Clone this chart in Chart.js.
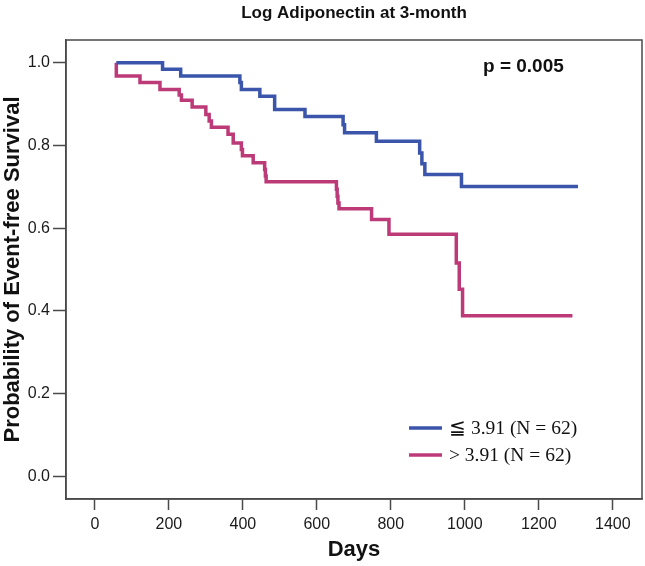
<!DOCTYPE html>
<html><head><meta charset="utf-8">
<script src="https://cdn.jsdelivr.net/npm/chart.js@4/dist/chart.umd.min.js"></script>
<style>html,body{margin:0;padding:0;background:#fff}#wrap{width:645px;height:566px}</style>
</head><body><div id="wrap"><canvas id="c" width="645" height="566"></canvas></div>
<script>
const chartTitle = 'Log Adiponectin at 3-month';
const pValueText = 'p = 0.005';
const xAxisTitle = 'Days';
const yAxisTitle = 'Probability of Event-free Survival';
const seriesLabels = ['\u2266 3.91 (N = 62)', '> 3.91 (N = 62)'];
const seriesColors = ['#3a55aa', '#bd3a78'];
const xTickValues = [0, 200, 400, 600, 800, 1000, 1200, 1400];
const xTickLabels = ['0', '200', '400', '600', '800', '1000', '1200', '1400'];
const yTickValues = [0, 0.2, 0.4, 0.6, 0.8, 1.0];
const yTickLabels = ['0.0', '0.2', '0.4', '0.6', '0.8', '1.0'];

// Group "≦ 3.91": event times (days) and survival after each step
const lowDays = [58, 183, 232, 392, 396, 446, 486, 568, 671, 675, 761, 878, 884, 892, 991, 1306];
const lowSurv = [1.0, 0.984, 0.968, 0.952, 0.935, 0.919, 0.887, 0.870, 0.850, 0.831, 0.810, 0.782, 0.756, 0.730, 0.701, 0.701];

// Group "> 3.91"
const highDays = [58, 58, 122, 176, 228, 234, 263, 300, 309, 315, 360, 374, 396, 399, 428, 459, 461, 463, 653, 655, 657, 660, 748, 795, 977, 985, 994, 1291];
const highSurv = [1.0, 0.968, 0.952, 0.935, 0.922, 0.909, 0.893, 0.875, 0.859, 0.844, 0.827, 0.806, 0.790, 0.775, 0.758, 0.742, 0.726, 0.712, 0.694, 0.677, 0.661, 0.647, 0.621, 0.585, 0.516, 0.452, 0.388, 0.388];

const toPts = (xs, ys) => xs.map((x, i) => ({x: x, y: ys[i]}));
const labelFor = (vals, labels, v) => labels[vals.findIndex(t => Math.abs(t - v) < 1e-6)];

const framePlugin = {
  id: 'frame',
  afterDraw(chart) {
    const ctx = chart.ctx, a = chart.chartArea;
    ctx.save();
    ctx.strokeStyle = '#4a4a4a';
    ctx.lineWidth = 1.5;
    ctx.strokeRect(a.left, a.top, a.right - a.left, a.bottom - a.top);
    // chart title centred over plot area
    ctx.fillStyle = '#111';
    ctx.font = 'bold 17px "Liberation Sans", Arial, sans-serif';
    ctx.textAlign = 'center';
    ctx.textBaseline = 'middle';
    ctx.fillText(chartTitle, (a.left + a.right) / 2, 13);
    // p value
    ctx.font = 'bold 19px "Liberation Sans", Arial, sans-serif';
    ctx.textAlign = 'left';
    ctx.fillText(pValueText, a.left + 417, 67);
    // legend
    ctx.font = '19.5px "Liberation Serif", "DejaVu Serif", serif';
    ctx.textBaseline = 'middle';
    const rows = [428, 455];
    chart.data.datasets.forEach((ds, i) => {
      ctx.strokeStyle = ds.borderColor;
      ctx.lineWidth = 3.5;
      ctx.beginPath();
      ctx.moveTo(a.left + 343, rows[i]);
      ctx.lineTo(a.left + 376, rows[i]);
      ctx.stroke();
      ctx.fillStyle = '#111';
      ctx.fillText(ds.label, a.left + 383, rows[i] + 1);
    });
    ctx.restore();
  }
};

new Chart(document.getElementById('c'), {
  type: 'line',
  data: {
    datasets: [
      {label: seriesLabels[0], data: toPts(lowDays, lowSurv), borderColor: seriesColors[0], borderWidth: 3.5, stepped: 'before', pointRadius: 0, fill: false},
      {label: seriesLabels[1], data: toPts(highDays, highSurv), borderColor: seriesColors[1], borderWidth: 3.5, stepped: 'before', pointRadius: 0, fill: false}
    ]
  },
  options: {
    responsive: false,
    devicePixelRatio: 1,
    animation: false,
    layout: {padding: {top: 40, right: 3, left: 0, bottom: 0}},
    plugins: {legend: {display: false}, tooltip: {enabled: false}, title: {display: false}},
    scales: {
      x: {
        type: 'linear', min: -78, max: 1479,
        afterBuildTicks: s => { s.ticks = xTickValues.map(v => ({value: v})); },
        afterFit: s => { s.height = 67; },
        ticks: {color: '#1a1a1a', font: {family: '"Liberation Sans", Arial, sans-serif', size: 16}, padding: 5, maxRotation: 0, autoSkip: false,
          callback: v => labelFor(xTickValues, xTickLabels, v)},
        grid: {display: true, drawOnChartArea: false, drawTicks: true, tickLength: 11, tickWidth: 1.5, tickColor: '#4a4a4a'},
        border: {display: true, color: '#4a4a4a', width: 1.5},
        title: {display: true, text: xAxisTitle, color: '#111', font: {family: '"Liberation Sans", Arial, sans-serif', size: 22, weight: 'bold'}, padding: {top: 0, bottom: 3}}
      },
      y: {
        type: 'linear', min: -0.055, max: 1.055,
        afterBuildTicks: s => { s.ticks = yTickValues.map(v => ({value: v})); },
        afterFit: s => { s.width = 66; },
        ticks: {color: '#1a1a1a', font: {family: '"Liberation Sans", Arial, sans-serif', size: 16}, padding: 3,
          callback: v => labelFor(yTickValues, yTickLabels, v)},
        grid: {display: true, drawOnChartArea: false, drawTicks: true, tickLength: 13, tickWidth: 1.5, tickColor: '#4a4a4a'},
        border: {display: true, color: '#4a4a4a', width: 1.5},
        title: {display: true, text: yAxisTitle, color: '#111', font: {family: '"Liberation Sans", Arial, sans-serif', size: 22, weight: 'bold'}, padding: {top: 0, bottom: 0}}
      }
    }
  },
  plugins: [framePlugin]
});
</script></body></html>
